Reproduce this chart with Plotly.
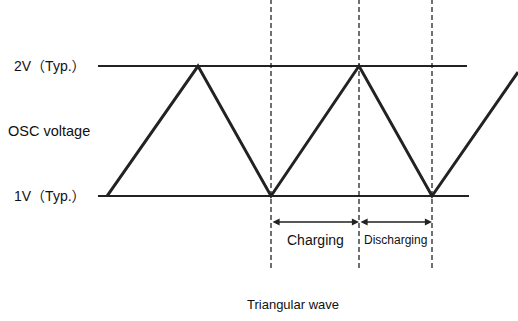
import plotly.graph_objects as go

# Triangular OSC waveform (time in arbitrary units, voltage in V)
wave_t = [0, 91, 164, 252, 325, 411]
wave_v = [1.0, 2.0, 1.0, 2.0, 1.0, 1.954]

# Typical levels and their extent
level_v = [2.0, 1.0]
level_labels = ["2V（Typ.）", "1V（Typ.）"]
level_start = [-9, -9]
level_end = [360, 362]

# Marker lines at troughs/peaks
marker_t = [164, 252, 325]

# Charging / discharging intervals
phase_names = ["Charging", "Discharging"]
phase_start = [164, 252]
phase_end = [252, 325]

FONT = "Liberation Sans, Arial, Noto Sans CJK JP, sans-serif"
INK = "#111111"

fig = go.Figure()

# typical level lines
for v, t0, t1 in zip(level_v, level_start, level_end):
    fig.add_trace(go.Scatter(
        x=[t0, t1], y=[v, v], mode="lines",
        line=dict(color="#222222", width=2), hoverinfo="skip",
    ))

# dashed verticals
for t in marker_t:
    fig.add_trace(go.Scatter(
        x=[t, t], y=[0.446, 2.51], mode="lines",
        line=dict(color="#111111", width=1.2, dash="5px,3px"), hoverinfo="skip",
    ))

# the wave
fig.add_trace(go.Scatter(
    x=wave_t, y=wave_v, mode="lines",
    line=dict(color="#222222", width=3), hoverinfo="skip",
))

# level labels
for v, lab in zip(level_v, level_labels):
    fig.add_annotation(
        x=-19, y=v, text=lab, showarrow=False, xanchor="right",
        font=dict(family=FONT, size=14, color=INK),
    )

fig.add_annotation(
    x=-15, y=1.5, text="OSC voltage", showarrow=False, xanchor="right",
    font=dict(family=FONT, size=14.5, color=INK),
)

# double-headed arrows and phase labels
for name, t0, t1 in zip(phase_names, phase_start, phase_end):
    fig.add_annotation(
        x=t1, y=0.8, ax=t0, ay=0.8, xref="x", yref="y", axref="x", ayref="y",
        text="", showarrow=True, arrowhead=2, arrowside="end+start",
        arrowsize=1.1, arrowwidth=1.3, arrowcolor="#222222",
    )
    fig.add_annotation(
        x=(t0 + t1) / 2, y=0.662, text=name, showarrow=False,
        font=dict(family=FONT, size=14 if name == "Charging" else 12, color=INK),
    )

fig.add_annotation(
    x=186, y=0.169, text="Triangular wave", showarrow=False,
    font=dict(family=FONT, size=13, color=INK),
)

fig.update_layout(
    width=518, height=321,
    margin=dict(l=0, r=0, t=0, b=0),
    paper_bgcolor="white", plot_bgcolor="white",
    showlegend=False,
    xaxis=dict(range=[-107, 411], visible=False, fixedrange=True),
    yaxis=dict(range=[0.0385, 2.508], visible=False, fixedrange=True),
)

fig.write_html(
    "out.html",
    config={"displayModeBar": False},
    post_script="document.body.style.margin='0';",
)
